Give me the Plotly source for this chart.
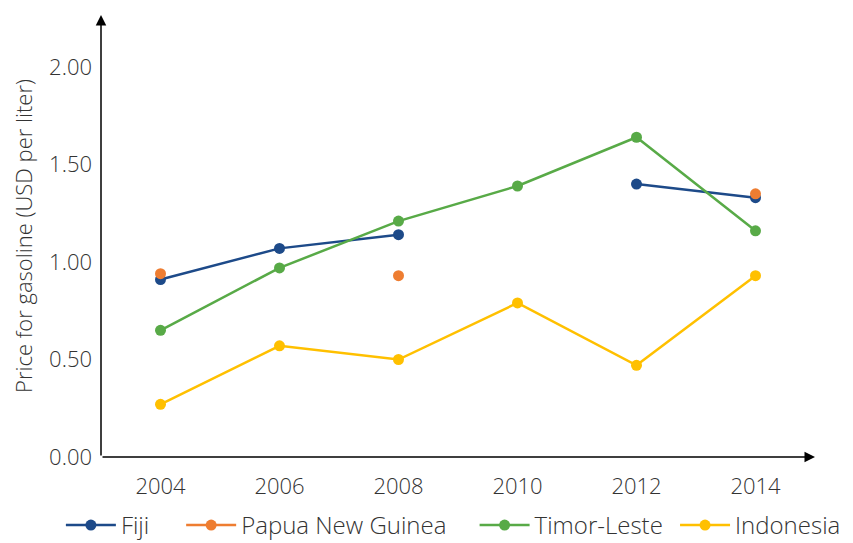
import plotly.graph_objects as go

years = [2004, 2006, 2008, 2010, 2012, 2014]
fiji = [0.91, 1.07, 1.14, None, 1.40, 1.33]
png = [0.94, None, 0.93, None, None, 1.35]
timor = [0.65, 0.97, 1.21, 1.39, 1.64, 1.16]
indonesia = [0.27, 0.57, 0.50, 0.79, 0.47, 0.93]

series = [
    ("Fiji", fiji, "#1D4A89"),
    ("Papua New Guinea", png, "#EE7D31"),
    ("Timor-Leste", timor, "#58AA47"),
    ("Indonesia", indonesia, "#FFC000"),
]
y_ticks = [0, 0.5, 1.0, 1.5, 2.0]
y_tick_labels = ["0.00", "0.50", "1.00", "1.50", "2.00"]

FONT = "Open Sans"
legend_ids = ["legend", "legend2", "legend3", "legend4"]
legend_x = [0.062, 0.203, 0.547, 0.782]

fig = go.Figure()
for (name, vals, color), lid in zip(series, legend_ids):
    fig.add_trace(go.Scatter(
        x=years, y=vals, name=name, mode="lines+markers",
        connectgaps=False,
        line=dict(color=color, width=2.5),
        marker=dict(color=color, size=11),
        cliponaxis=False,
        legend=lid,
    ))

legend_common = dict(orientation="h", xanchor="left", xref="container",
                     y=0.047, yanchor="middle", yref="container",
                     font=dict(size=24, color="#333333"), itemwidth=50,
                     bgcolor="rgba(0,0,0,0)")
fig.update_layout(
    width=853, height=543,
    margin=dict(l=93, r=46, t=7, b=94, autoexpand=False),
    paper_bgcolor="white", plot_bgcolor="white",
    font=dict(family=FONT, size=22, color="#333333", weight=300),
    showlegend=True,
    xaxis=dict(range=[2003.0, 2015.0], tickvals=years, ticktext=[str(y) for y in years],
               showgrid=False, zeroline=False, showline=False, ticks="", automargin=False,
               ticklabelstandoff=14, tickfont=dict(size=22)),
    yaxis=dict(range=[0, 2.267], tickvals=y_ticks, ticktext=y_tick_labels,
               showgrid=False, zeroline=False, showline=False, ticks="", automargin=False,
               ticklabelstandoff=8, tickfont=dict(size=22),
               title=dict(text="Price for gasoline (USD per liter)", font=dict(size=22), standoff=12)),
)
for lid, lx in zip(legend_ids, legend_x):
    fig.update_layout({lid: dict(legend_common, x=lx)})

# axis arrows
fig.add_annotation(x=2015.0, y=0, ax=2003.0, ay=0, xref="x", yref="y", axref="x", ayref="y",
                   showarrow=True, arrowhead=2, arrowsize=1.4, arrowwidth=1.5, arrowcolor="black", text="")
fig.add_annotation(x=2003.0, y=2.267, ax=2003.0, ay=0, xref="x", yref="y", axref="x", ayref="y",
                   showarrow=True, arrowhead=2, arrowsize=1.4, arrowwidth=1.5, arrowcolor="black", text="")

fig.write_html("out.html")
